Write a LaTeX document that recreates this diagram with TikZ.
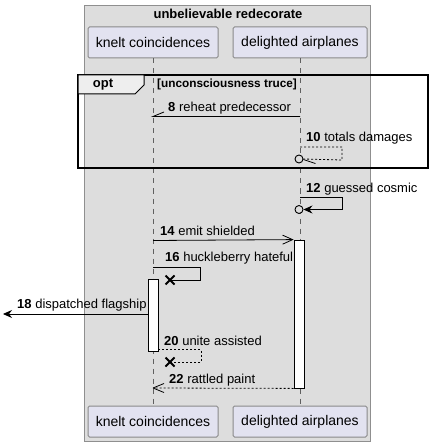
\documentclass[tikz,border=0pt]{standalone}
\usepackage{fontspec}
\setmainfont{Liberation Sans}
\usetikzlibrary{arrows.meta}
\definecolor{boxgray}{HTML}{DDDDDD}
\definecolor{boxline}{HTML}{8F8F8F}
\definecolor{partfill}{HTML}{E2E2F0}
\definecolor{partline}{HTML}{8A8A8A}
\definecolor{tabfill}{HTML}{EEEEEE}
\tikzset{
  part/.style={draw=partline, line width=1pt, fill=partfill, rounded corners=1.5pt, minimum width=130pt, minimum height=31pt, inner sep=0pt, font=\fontsize{14}{16}\selectfont},
  part2/.style={part, minimum width=134pt},
  lifeline/.style={draw=gray!75!black, dash pattern=on 5pt off 5pt, line width=0.6pt},
  actbox/.style={draw=black, fill=white, minimum width=10pt, inner sep=0pt, line width=0.8pt},
  msg/.style={line width=0.8pt, black},
  dots/.style={msg, dash pattern=on 2pt off 2pt},
  lbl/.style={anchor=base west, inner sep=0pt, font=\fontsize{13}{15}\selectfont},
  solidhead/.style={-{Stealth[length=9pt,width=8pt,inset=3pt]}},
  openhead/.style={-{Straight Barb[length=10pt,width=9pt,line width=0.8pt]}},
  xmark/.style={line width=1.8pt, black},
}
\begin{document}
\begin{tikzpicture}[x=1pt,y=-1pt]
\useasboundingbox (0,0) rectangle (430,446);
% outer box
\node[draw=boxline, fill=boxgray, line width=0.8pt, minimum width=286pt, minimum height=436pt, inner sep=0pt] (grp) at (227,223) {};
\node[font=\bfseries\fontsize{13}{15}\selectfont, inner sep=0pt] (grptitle) at (228,14) {unbelievable redecorate};
% participants
\node[part] (kt) at (153,42.5) {knelt coincidences};
\node[part2] (dt) at (300,42.5) {delighted airplanes};
\node[part] (kb) at (153,421.5) {knelt coincidences};
\node[part2] (db) at (300,421.5) {delighted airplanes};
% lifelines
\draw[lifeline] (kt.south) -- (kb.north);
\draw[lifeline] (dt.south) -- (db.north);
% opt frame
\draw[line width=1.8pt] (78,75) rectangle (428,168);
\draw[line width=1pt, fill=tabfill] (78,75) -- (144,75) -- (144,85) -- (135,94) -- (78,94) -- cycle;
\node[font=\bfseries\fontsize{13}{15}\selectfont, inner sep=0pt] (optlbl) at (103,85) {opt};
\node[font=\bfseries\fontsize{11.8}{14}\selectfont, anchor=west, inner sep=0pt] (guard) at (157,84.5) {[unconsciousness truce]};
% message 8
\coordinate (m8a) at (300,116.5);
\coordinate (m8b) at (153,116.5);
\draw[msg] (m8a) -- (m8b) -- ++(11,-4.5);
\node[lbl] (l8) at (168,111.5) {\textbf{8} reheat predecessor};
% message 10
\coordinate (m10a) at (300,147);
\node[draw=black, fill=boxgray, circle, minimum size=8pt, inner sep=0pt, line width=0.9pt] (c10) at (299,159) {};
\draw[dots] (m10a) -- (342,147) -- (342,160) -- (c10.east);
\draw[msg] (c10.east) ++(0,0.5) -- ++(12,4);
\node[lbl] (l10) at (306,141.5) {\textbf{10} totals damages};
% message 12
\coordinate (m12a) at (300,197);
\node[draw=black, fill=boxgray, circle, minimum size=8pt, inner sep=0pt, line width=0.9pt] (c12) at (299,209.5) {};
\draw[msg, solidhead] (m12a) -- (342,197) -- (342,209.5) -- (c12.east);
\node[lbl] (l12) at (306,192.5) {\textbf{12} guessed cosmic};
% activations
\node[actbox, minimum height=148pt] (ad) at (299,314) {};
\node[actbox, minimum height=72pt] (ak) at (153,315) {};
% message 14
\coordinate (m14a) at (153,240.5);
\draw[msg, openhead] (m14a) -- (ad.north west);
\node[lbl] (l14) at (160,235.5) {\textbf{14} emit shielded};
% message 16
\coordinate (m16a) at (153,267);
\coordinate (x16) at (170,280);
\draw[msg] (m16a) -- (200,267) -- (200,280) -- (x16);
\draw[xmark] (x16) ++(-4.5,-4.5) -- ++(9,9) (x16) ++(-4.5,4.5) -- ++(9,-9);
\node[lbl] (l16) at (165,261.5) {\textbf{16} huckleberry hateful};
% message 18
\coordinate (m18b) at (3,314);
\draw[msg, solidhead] (ak.west |- 0,314) -- (m18b);
\node[lbl] (l18) at (17,308.5) {\textbf{18} dispatched flagship};
% message 20
\coordinate (x20) at (170,362);
\draw[dots] (ak.south east |- 0,349.5) -- (201,349.5) -- (201,362) -- (x20);
\draw[xmark] (x20) ++(-4.5,-4.5) -- ++(9,9) (x20) ++(-4.5,4.5) -- ++(9,-9);
\node[lbl] (l20) at (164,345.5) {\textbf{20} unite assisted};
% message 22
\coordinate (m22b) at (153,388);
\draw[dots] (ad.south west) -- (m22b);
\draw[msg] (m22b) -- ++(11,-4.5) (m22b) -- ++(11,4.5);
\node[lbl] (l22) at (169,383.5) {\textbf{22} rattled paint};
\end{tikzpicture}
\end{document}
